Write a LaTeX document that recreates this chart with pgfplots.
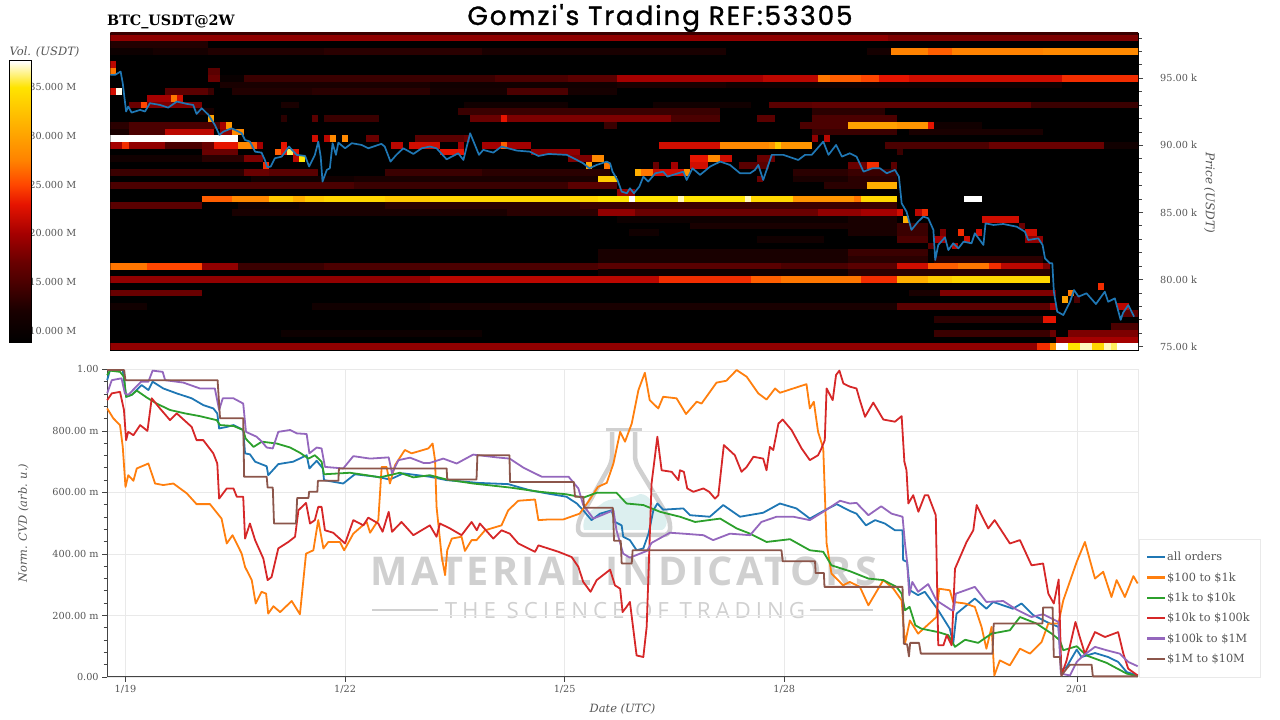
\documentclass[border=0pt]{standalone}
\usepackage{graphicx}
\usepackage{fontspec}
\setmainfont{DejaVu Serif}
\newfontfamily\titlef[LetterSpace=7,FakeBold=1.2]{Poppins}
\newfontfamily\wmf[LetterSpace=9]{Open Sans}
\newfontfamily\wmg[LetterSpace=22]{Open Sans}
\usepackage{pgfplots}
\pgfplotsset{compat=1.18}
\definecolor{txt}{HTML}{555555}
\definecolor{axl}{HTML}{444444}
\definecolor{grd}{HTML}{E9E9E9}
\definecolor{wm}{HTML}{D0D0D0}
\definecolor{liq}{HTML}{DCEFEF}
\definecolor{c1}{HTML}{1F77B4}
\definecolor{c2}{HTML}{FF7F0E}
\definecolor{c3}{HTML}{2CA02C}
\definecolor{c4}{HTML}{D62728}
\definecolor{c5}{HTML}{9467BD}
\definecolor{c6}{HTML}{8C564B}
\pgfplotsset{
  colormap={hm}{rgb255(0)=(0,0,0); rgb255(112)=(25,0,0); rgb255(215)=(75,0,0); rgb255(285)=(105,0,0); rgb255(388)=(165,0,0); rgb255(492)=(230,20,0); rgb255(561)=(255,70,0); rgb255(647)=(255,130,0); rgb255(768)=(255,175,0); rgb255(907)=(255,228,0); rgb255(1000)=(255,255,255)},
}
\newcommand\fs[1]{\fontsize{#1}{#1}\selectfont}
\newcommand\hrow[2]{\addplot[mesh,shader=flat corner,line width=6.75pt,line cap=butt,forget plot,point meta=explicit]
  table[row sep=\\,header=false,x index=0,y expr=#1,meta index=1]{#2\\};}
\begin{document}
\begin{tikzpicture}
\path[use as bounding box] (0pt,0pt) rectangle (1280pt,720pt);
% watermark
\begin{scope}
\fill[liq] (584pt,190pt) .. controls (580pt,205pt) and (595pt,212pt) .. (600pt,215pt) .. controls (610pt,225pt) and (625pt,218pt) .. (640pt,226pt) .. controls (650pt,226pt) and (652pt,215pt) .. (658pt,212pt) .. controls (670pt,206pt) and (668pt,192pt) .. (662pt,190pt) -- cycle;
\draw[wm,line width=4.5pt,rounded corners=5pt] (606pt,290pt) -- (642pt,290pt);
\draw[wm,line width=4.5pt,rounded corners=6pt] (612pt,290pt) -- (612pt,258pt) -- (578pt,198pt) -- (578pt,185pt) -- (670pt,185pt) -- (670pt,200pt) -- (635pt,258pt) -- (635pt,290pt);
\node[inner sep=0pt,text=wm] at (624pt,149pt) {\resizebox{506pt}{!}{\wmf\bfseries MATERIAL INDICATORS}};
\node[inner sep=0pt,text=wm] at (625pt,109.5pt) {\resizebox{360pt}{!}{\wmg THE SCIENCE OF TRADING}};
\draw[wm,line width=1.2pt] (372pt,110pt) -- (438pt,110pt) (810pt,110pt) -- (873pt,110pt);
\end{scope}
% titles
\node[inner sep=0pt,anchor=base] at (660pt,695pt) {\resizebox{385pt}{!}{\titlef Gomzi's Trading REF:53305}};
\node[inner sep=0pt,anchor=west] at (107pt,698pt) {\fs{14.3}\bfseries BTC\_USDT@2W};
\node[inner sep=0pt,text=txt] at (44.5pt,668pt) {\fs{11.5}\itshape Vol. (USDT)};
\node[inner sep=0pt,text=txt,rotate=-90] at (1209.5pt,527pt) {\fs{12}\itshape Price (USDT)};
% colour bar labels
\begin{axis}[at={(9.3pt,377pt)},anchor=south west,scale only axis,width=22.4pt,height=282.3pt,
  xmin=0,xmax=1,ymin=8.77,ymax=37.7,
  axis y line*=right,axis x line=none,
  ytick={10,15,20,25,30,35},yticklabels={10.000 M,15.000 M,20.000 M,25.000 M,30.000 M,35.000 M},
  major tick length=0pt,y axis line style={draw=none},
  yticklabel style={font=\fs{9.7},text=txt,anchor=west,inner sep=0pt,xshift=-2.5pt}]
\addplot[draw=none,forget plot] coordinates {(0,10)(1,35)};
\end{axis}
% colour bar
\begin{axis}[at={(9.3pt,377pt)},anchor=south west,scale only axis,width=22.4pt,height=282.3pt,
  xmin=0,xmax=1,ymin=8.77,ymax=37.7,xtick=\empty,ytick=\empty,colormap name=hm,
  point meta min=8.77,point meta max=37.7,axis line style={black,line width=1pt},axis on top]
\addplot[surf,shader=interp,point meta=y,mesh/rows=2,mesh/cols=2] coordinates {(0,8.77)(1,8.77)(0,37.7)(1,37.7)};
\end{axis}
% heat map and price
\begin{axis}[at={(110.25pt,369pt)},anchor=south west,scale only axis,width=1027.8pt,height=318pt,
  xmin=-5,xmax=332,ymin=74.68,ymax=98.37,colormap name=hm,point meta min=8.77,point meta max=37.7,
  axis background/.style={fill=black},
  axis y line*=right,axis x line=none,
  ytick={75,80,85,90,95},yticklabels={75.00 k,80.00 k,85.00 k,90.00 k,95.00 k},
  minor ytick={76,77,78,79,81,82,83,84,86,87,88,89,91,92,93,94,96,97,98},
  tick align=outside,major tick length=5pt,minor tick length=3.5pt,tick style={axl,line width=.8pt},
  yticklabel style={font=\fs{9.7},text=txt,anchor=west,inner sep=0pt,xshift=17pt}]
\hrow{98.5}{-5 14\\333 14}
\hrow{98}{-5 19\\100 19\\250 18\\333 18}
\hrow{97.5}{-5 12.5\\27 8.8\\333 8.8}
\hrow{97}{-5 10.5\\9 11.5\\27 12.5\\65 13\\117 12\\197 8.8\\243 11.5\\251 27.5\\263 26\\271 27.5\\301 28\\333 28}
\hrow{96}{-5 21\\-3 8.8\\333 8.8}
\hrow{95.5}{-5 27\\-3 8.8\\27 16\\31 8.8\\333 8.8}
\hrow{95}{-5 8.8\\27 17\\31 10\\39 14\\121 15\\145 16\\161 20\\209 21\\227 27\\231 26\\241 25\\247 23\\257 22\\307 24\\333 24}
\hrow{94.5}{31 12\\100 11\\161 12\\197 11\\307 8.8\\333 8.8}
\hrow{94}{-5 22\\-3 37.5\\-1 8.8\\13 16\\27 14\\29 8.8\\35 12.5\\61 13\\100 11.5\\125 15\\145 11.5\\161 8.8\\333 8.8}
\hrow{93.5}{7 20\\15 27\\17 22\\19 8.8\\21 8.8}
\hrow{93}{1 17\\5 25\\7 18\\25 8.8\\51 12\\57 8.8\\111 11\\145 8.8\\173 11\\205 8.8\\211 16\\225 16.5\\297 14\\333 14}
\hrow{92.5}{23 12\\29 8.8\\109 14\\195 8.8\\225 13\\249 8.8\\251 8.8}
\hrow{92}{27 30\\29 8.8\\51 13\\53 8.8\\61 16\\63 8.8\\65 14\\83 8.8\\113 17\\123 23\\125 18\\179 15\\195 8.8\\207 16\\213 8.8\\225 15\\253 8.8\\255 8.8}
\hrow{91.5}{-5 13\\1 15\\31 20\\33 29\\35 8.8\\157 14\\161 8.8\\221 15\\237 30\\253 29\\263 23\\265 11\\281 8.8\\283 8.8}
\hrow{91}{-5 12\\1 15\\13 21\\29 8.8\\31 19\\35 28\\39 8.8\\225 14\\253 8.8\\257 12\\301 8.8\\303 8.8}
\hrow{90.5}{-5 38\\37 8.8\\61 22\\63 8.8\\65 21\\67 28\\69 8.8\\71 28\\73 8.8\\79 17\\83 8.8\\95 16\\111 17\\113 8.8\\225 19\\227 8.8\\229 21\\231 8.8\\233 8.8}
\hrow{90}{-5 20\\-1 24\\1 19\\13 15\\25 17\\29 23\\37 28\\41 26\\43 20\\45 8.8\\51 23\\53 8.8\\87 21\\91 8.8\\93 22\\103 8.8\\109 20\\111 8.8\\117 20\\123 26\\125 20\\133 8.8\\175 22\\195 28\\211 29\\213 33\\215 29\\225 8.8\\249 15\\283 17\\321 11\\333 11}
\hrow{89.5}{25 17\\37 8.8\\49 26\\51 23\\53 36\\55 23\\57 8.8\\103 23\\111 8.8\\133 19\\149 8.8\\253 14\\255 8.8\\257 8.8}
\hrow{89}{-5 11\\25 13\\39 18\\45 8.8\\55 21\\57 35\\59 8.8\\145 18\\153 28\\157 8.8\\185 23\\191 28\\195 22\\199 8.8\\207 17\\213 8.8\\215 8.8}
\hrow{88.5}{45 24\\47 8.8\\151 30\\153 8.8\\157 27\\159 8.8\\173 17\\175 8.8\\179 20\\181 8.8\\185 22\\191 8.8\\201 16\\211 8.8\\237 17\\243 24\\247 8.8\\251 16\\253 8.8\\255 8.8}
\hrow{88}{-5 14\\31 13\\39 17\\47 16\\63 8.8\\85 14\\117 13\\159 8.8\\167 31\\169 27\\173 22\\183 29\\185 8.8\\219 13\\237 14\\253 8.8\\255 8.8}
\hrow{87.5}{41 11\\75 12\\155 33\\161 8.8\\207 17\\209 8.8\\219 12\\237 13\\253 8.8\\255 8.8}
\hrow{87}{-5 15\\75 14\\145 16\\161 8.8\\229 13\\243 31\\253 8.8\\255 8.8}
\hrow{86.5}{161 19\\167 8.8\\169 8.8}
\hrow{86}{25 26\\35 28\\47 33\\55 31\\59 33\\65 34\\85 33\\100 34\\155 35\\165 38\\167 35\\181 37\\183 35\\203 37\\205 34\\219 29\\239 27\\241 34\\253 8.8\\275 38\\281 8.8\\283 8.8}
\hrow{85.5}{-5 16\\25 8.8\\37 11\\57 12\\85 13\\149 14\\253 8.8\\255 8.8}
\hrow{85}{35 12\\125 13\\155 19\\167 17\\227 19\\241 20\\253 22\\255 8.8\\259 21\\261 24\\263 8.8\\265 8.8}
\hrow{84.5}{161 10.5\\237 12\\253 8.8\\255 31\\257 8.8\\281 22\\293 8.8\\295 8.8}
\hrow{84}{185 12\\253 14\\263 8.8\\293 17\\295 8.8\\297 8.8}
\hrow{83.5}{165 11\\175 8.8\\237 12\\253 14\\263 8.8\\267 18\\269 8.8\\273 24\\275 8.8\\279 22\\281 8.8\\295 22\\299 8.8\\301 8.8}
\hrow{83}{207 11\\229 8.8\\253 15\\263 8.8\\265 20\\269 8.8\\275 22\\277 8.8\\295 19\\301 8.8\\303 8.8}
\hrow{82.5}{263 16\\265 8.8\\271 21\\273 8.8\\275 8.8}
\hrow{82}{155 12\\237 14\\263 8.8\\265 8.8}
\hrow{81.5}{155 12\\237 13\\263 8.8\\265 13\\301 8.8\\303 8.8}
\hrow{81}{-5 27\\7 25\\25 19\\37 14\\65 15\\155 16\\215 15\\237 16\\253 22\\263 26\\273 27\\283 24\\287 21\\301 18\\303 8.8\\305 8.8}
\hrow{80.5}{155 11\\237 13\\303 8.8\\305 8.8}
\hrow{80}{-5 19\\100 21\\175 24\\205 26\\215 27\\241 24\\253 31\\263 33\\271 34\\303 8.8\\305 8.8}
\hrow{79.5}{319 24\\321 8.8\\323 8.8}
\hrow{79}{-5 17\\25 8.8\\257 12\\267 18\\305 8.8\\309 27\\311 8.8\\313 8.8}
\hrow{78.5}{307 30\\309 8.8\\311 15\\313 8.8\\315 8.8}
\hrow{78}{-5 11\\7 8.8\\61 11\\100 12\\253 16\\303 20\\305 8.8\\325 21\\329 8.8\\331 8.8}
\hrow{77.5}{327 16\\333 16}
\hrow{77}{265 13\\301 23\\305 8.8\\307 8.8}
\hrow{76.5}{323 15\\333 15}
\hrow{76}{51 10.5\\117 8.8\\265 14\\303 17\\305 8.8\\309 18\\333 18}
\hrow{75.5}{305 20\\333 20}
\hrow{75}{-5 19\\299 24\\303 29\\305 38\\309 35\\313 37\\317 34\\321 37\\323 36\\325 38\\333 38}
\addplot[c1,line width=1.7pt,line join=round] coordinates {(-5,95.25)(-3.4,95.25)(-1.6,95.5)(-.9,94.63)(.2,92.52)(.9,92.89)(2,92.44)(4.8,92.64)(6.4,92.52)(8,93.14)(11.3,93.01)(14,92.81)(16.8,93.26)(20.1,93.09)(22.2,93.01)(23.3,92.34)(25,92.76)(27.2,92.27)(29.3,91.52)(30.8,90.78)(32.1,91.02)(34.8,91.27)(35.9,91.15)(38.1,90.9)(39.2,90.4)(40.8,90.28)(42.5,89.53)(44.6,89.46)(45.7,88.91)(46.5,88.37)(47.6,88.42)(49,89.04)(51.2,89.16)(53.6,89.91)(56.1,89.29)(58.9,89.21)(60.2,88.42)(62.1,89.29)(63.2,90.28)(64,89.16)(64.6,87.3)(66,88.17)(67,88.29)(67.9,90.16)(69,89.29)(69.8,90.2)(72,89.78)(74.2,90.16)(77.4,90.03)(79.6,89.78)(83.9,90.11)(85,89.91)(86.9,88.79)(88.8,89.29)(91.1,89.78)(94.4,89.36)(97.1,89.78)(99.8,89.91)(102,89.78)(105.3,88.96)(109.1,89.41)(110.8,88.91)(113,90.9)(114.8,89.91)(115.9,89.29)(117.3,89.66)(120.6,89.46)(123.3,89.91)(128.3,89.61)(132.6,89.53)(135.4,89.21)(138.7,89.36)(144.7,89.29)(148,88.91)(150.1,88.66)(152.1,88.29)(154.5,88.54)(157.8,88.79)(158.9,88.66)(159.7,88.04)(161.3,87.42)(162.7,86.55)(164.4,86.43)(165.4,86.8)(166.7,86.43)(168.5,86.93)(169.8,87.67)(171.4,87.3)(173.7,87.92)(176.3,88.04)(177.7,87.67)(181.2,87.92)(182.9,88.04)(184,87.42)(185.9,88.29)(188.4,87.8)(191.7,88.42)(195,88.79)(198.2,88.54)(201.5,87.92)(204.8,87.92)(206.4,88.17)(207.5,88.54)(209.1,87.42)(211.9,89.29)(215.7,89.29)(220.6,88.91)(222.8,89.29)(225,89.29)(228.8,90.28)(230.5,89.29)(233,90.03)(234.9,89.16)(237.5,89.41)(239.7,89.16)(242,88.04)(244.9,88.29)(247.4,88.29)(249.6,87.92)(252.3,88.17)(253.6,87.67)(254.5,85.68)(256.1,85.06)(257.7,83.7)(259.9,84.32)(261.6,84.69)(263.2,84.57)(264.9,83.7)(265.5,81.46)(266.5,82.58)(268.7,83.15)(269.8,82.2)(271.4,82.7)(273.1,82.33)(274.8,82.83)(277.4,82.7)(278.5,83.45)(281.3,82.58)(282,84.19)(284.6,84.07)(287.8,84.14)(292.2,83.94)(294.9,83.57)(296,82.95)(299.3,83.07)(300.7,82.58)(301.5,81.58)(303.1,81.21)(303.9,81.21)(304.4,79.1)(305.5,77.61)(307.5,77.36)(309.7,78.35)(311,79.22)(312.5,78.73)(315.1,78.98)(318.2,78.18)(321.1,79.1)(322.2,78.35)(324.4,78.6)(326.3,77)(327.1,77.53)(328.8,78.1)(330.7,77.24)};
\end{axis}
% CVD
\begin{axis}[at={(107.2pt,43pt)},anchor=south west,scale only axis,width=1030.8pt,height=307.6pt,clip=false,
  xmin=-6,xmax=332,ymin=0,ymax=1,
  axis x line*=bottom,axis y line*=left,axis line style={axl,line width=1pt,-},
  xtick={0,72,144,216,312},xticklabels={1/19,1/22,1/25,1/28,2/01},
  ytick={0,.2,.4,.6,.8,1},yticklabels={0.00,200.00 m,400.00 m,600.00 m,800.00 m,1.00},
  minor y tick num=4,tick align=outside,major tick length=5pt,minor tick length=3.5pt,tick style={axl,line width=.8pt},
  xmajorgrids,ymajorgrids,grid style={grd,line width=.8pt},
  ticklabel style={font=\fs{9.7},text=txt},
  xlabel={Date (UTC)},ylabel={Norm. CVD (arb. u.)},label style={font=\fs{11.4}\itshape,text=txt},
  ylabel shift=17pt,xlabel shift=3pt,
  legend style={at={(axis description cs:1.001,0)},anchor=south west,draw=grd,fill=white,font=\fs{11.3},text=txt,row sep=6.2pt,inner xsep=8pt,inner ysep=11pt},
  legend cell align=left,
  legend image code/.code={\fill[#1,draw=none] (0pt,-1.15pt) rectangle (18pt,1.15pt);},
  every axis plot/.append style={line width=1.8pt,line join=round}]
\draw[grd,line width=.8pt] (axis cs:-6,1) -- (axis cs:332,1) -- (axis cs:332,0);
\addplot[c1] coordinates {(-6,.965)(-5.1,.998)(-.9,.998)(.2,.911)(2,.917)(5.3,.949)(7.5,.933)(8.9,.960)(12.4,.938)(16.8,.922)(21.7,.906)(25.5,.884)(28.8,.873)(30.1,.857)(30.7,.808)(33.2,.813)(35.4,.819)(38.6,.803)(39.2,.727)(40.8,.724)(42.5,.700)(46.3,.685)(46.8,.656)(50.1,.692)(55,.700)(59.4,.721)(60.3,.678)(62.7,.703)(64.7,.678)(65.1,.640)(71.4,.629)(75.2,.659)(82.4,.651)(86.7,.642)(91.1,.662)(99.8,.651)(105.3,.640)(115.7,.631)(125.5,.627)(132.6,.607)(138.1,.597)(144.6,.586)(148,.564)(150.1,.542)(152.8,.510)(155.6,.531)(159.4,.542)(160.5,.504)(162.7,.493)(163.2,.456)(165.4,.445)(167.6,.412)(169.8,.418)(171.5,.466)(173.1,.542)(174.4,.564)(176.3,.544)(182.9,.548)(185.1,.526)(191.6,.521)(196,.559)(201.5,.521)(209.1,.534)(214.6,.564)(220,.548)(224.4,.515)(229.3,.542)(233.2,.562)(237.5,.540)(239.7,.531)(242.8,.493)(245.8,.510)(249,.499)(252.3,.477)(254.8,.477)(255,.380)(256.3,.374)(257.2,.282)(259.9,.266)(262.1,.277)(266.5,.217)(270.3,.157)(271.4,.108)(272.5,.206)(278.5,.255)(282.3,.222)(284.5,.244)(291,.222)(293.8,.239)(297.7,.201)(303.1,.174)(305.9,.163)(306.9,.022)(308.6,.033)(311.9,.089)(313.5,.065)(317.9,.078)(322.2,.065)(325.5,.049)(328.3,.016)(331.9,.005)};
\addlegendentry{all orders}
\addplot[c2] coordinates {(-6,.873)(-4,.841)(-1.8,.819)(-.9,.748)(0,.618)(.9,.656)(2.6,.638)(3.7,.678)(7.5,.694)(9.7,.629)(12.4,.624)(15.7,.629)(20.1,.597)(23.3,.562)(27.7,.562)(31.5,.515)(33.2,.434)(35.1,.461)(38.1,.401)(39.2,.358)(41.4,.315)(42.7,.239)(44.6,.277)(46.1,.271)(46.8,.206)(48.5,.230)(50.7,.211)(54.5,.247)(57.2,.204)(59.2,.401)(61.6,.412)(63.2,.510)(64.9,.418)(66.5,.439)(70.3,.439)(71.7,.412)(74.7,.466)(79.1,.504)(80.2,.469)(82.9,.510)(84,.683)(85.6,.683)(86.7,.629)(88.4,.689)(91.6,.738)(93.8,.727)(99.3,.743)(100.7,.759)(101.5,.705)(102,.553)(103.7,.390)(104.8,.331)(105.5,.412)(107,.450)(110.2,.456)(111.3,.410)(113.5,.445)(115.1,.445)(117.9,.477)(123.3,.493)(125.5,.542)(128.8,.573)(134.3,.577)(135.4,.510)(138.6,.512)(143.5,.512)(148.9,.531)(151.7,.569)(154.9,.618)(157.8,.631)(160,.694)(162.2,.797)(163.8,.765)(166,.824)(168.2,.933)(170.3,.989)(171.9,.900)(174.7,.873)(176.3,.911)(180.7,.906)(183.8,.855)(187.3,.895)(188.9,.889)(193.8,.957)(197,.963)(200.4,.998)(203.7,.976)(207.5,.922)(210.2,.902)(213,.938)(214.6,.924)(223.3,.952)(224.4,.873)(225.7,.895)(227.1,.797)(228.8,.743)(229.9,.434)(231.5,.336)(235.3,.298)(237.5,.309)(240.8,.293)(243.6,.233)(248.5,.315)(251.8,.287)(254.5,.249)(255.6,.108)(257.2,.184)(259.9,.141)(265.9,.195)(266.8,.287)(270.3,.282)(271.4,.244)(275.3,.239)(278.5,.228)(280.7,.163)(282.3,.092)(284,.163)(284.9,.005)(286.7,.054)(290,.038)(293.3,.092)(296.6,.076)(300.4,.114)(302.6,.174)(305.9,.174)(307.5,.249)(311.9,.374)(314.6,.439)(317.9,.320)(320.6,.342)(323.3,.260)(325,.315)(327.7,.260)(330.5,.328)(331.9,.304)};
\addlegendentry{\$100 to \$1k}
\addplot[c3] coordinates {(-6,.981)(-5.1,.996)(-1.8,.992)(-.5,.976)(.2,.911)(2,.917)(3.7,.931)(6.9,.909)(10.2,.889)(14.6,.868)(19.5,.857)(24.4,.848)(29.9,.835)(31,.819)(35.4,.816)(38.6,.803)(39.4,.775)(42,.748)(44.7,.765)(49.6,.759)(54,.746)(57.2,.729)(60,.710)(62.1,.721)(64.3,.700)(65.1,.659)(73.6,.664)(79.1,.656)(83.4,.649)(90,.664)(94.4,.649)(99.8,.656)(105.3,.642)(114,.629)(126,.616)(135.9,.602)(144.6,.594)(150.1,.583)(154.5,.599)(161,.599)(164.3,.564)(169.8,.559)(175.3,.537)(181.8,.521)(186.8,.504)(195,.515)(200.4,.483)(204.8,.466)(210.2,.439)(217.9,.448)(224.4,.412)(228.8,.407)(231.5,.363)(237.5,.344)(243.6,.320)(248.5,.315)(252.8,.293)(254.5,.271)(255.6,.217)(257.1,.228)(259,.168)(261,.157)(266.5,.146)(269.8,.136)(272,.098)(275.3,.121)(279.6,.111)(284,.141)(290,.152)(293.3,.195)(298.7,.174)(303.7,.141)(306.4,.119)(307.5,.087)(311.9,.100)(315.1,.070)(321.7,.046)(328.3,.011)(331.9,.002)};
\addlegendentry{\$1k to \$10k}
\addplot[c4] coordinates {(-6,.900)(-4.5,.922)(-1.8,.927)(-.5,.868)(.2,.770)(.9,.797)(2.6,.786)(4.8,.819)(7.2,.800)(8.6,.906)(11.3,.873)(14.6,.835)(16.8,.857)(21.7,.813)(23.3,.770)(25.5,.770)(28.8,.727)(30.1,.694)(30.7,.580)(33.2,.613)(35.4,.613)(36.5,.586)(38.6,.586)(39.2,.450)(40.8,.499)(42.5,.445)(45.2,.385)(46.6,.315)(47.9,.325)(50.1,.418)(53.4,.439)(55.6,.456)(56.7,.542)(59.2,.566)(60.5,.499)(62.1,.510)(63.2,.553)(64.3,.553)(65.4,.477)(68.1,.469)(72,.434)(74.7,.510)(78,.493)(79.6,.518)(82.9,.499)(84.3,.472)(86.3,.537)(87.4,.472)(90.5,.504)(94.4,.461)(99.8,.493)(102,.456)(103.1,.499)(106.4,.483)(110.2,.461)(113.5,.504)(115.2,.477)(116.2,.499)(120.6,.450)(123.3,.477)(126,.466)(128.8,.434)(134.3,.407)(135.4,.428)(142,.407)(146.3,.390)(148.5,.358)(150.1,.309)(152.5,.277)(154.5,.315)(158.9,.349)(160.5,.298)(162.2,.287)(163,.211)(164.3,.228)(165.4,.244)(167.6,.070)(169.8,.065)(170.9,.163)(172.5,.629)(174.4,.781)(175.8,.672)(179.1,.667)(181.3,.640)(181.8,.672)(183.1,.667)(184.2,.613)(186.2,.602)(189.5,.613)(191.4,.602)(193.3,.580)(194.4,.591)(196.2,.754)(199.8,.721)(202,.667)(203.7,.683)(205.9,.716)(209.1,.710)(210.2,.672)(211.3,.748)(212.4,.738)(214.1,.824)(215.5,.837)(218.4,.803)(221.7,.743)(224.4,.705)(227.1,.721)(228.2,.743)(229.3,.770)(229.9,.938)(231.9,.900)(233,.982)(234.1,.996)(235.4,.954)(237.5,.944)(239.7,.938)(240.8,.900)(242.5,.846)(245.2,.892)(248.5,.837)(252.3,.830)(254.5,.848)(255.4,.700)(256.1,.672)(256.7,.564)(258.3,.591)(260,.537)(262.1,.591)(263.2,.591)(265.7,.526)(266.5,.103)(268.2,.103)(269.3,.136)(270.9,.103)(272,.352)(275.8,.439)(278,.477)(279.1,.559)(280.7,.526)(282.9,.483)(285,.510)(290,.434)(293.3,.445)(297.1,.363)(300.9,.369)(302.6,.271)(304.4,.239)(306,.317)(306.9,.005)(308.6,.054)(311.5,.179)(312.9,.130)(314.6,.076)(317.9,.146)(321.2,.130)(325.5,.146)(327.2,.076)(328.8,.027)(331.9,.005)};
\addlegendentry{\$10k to \$100k}
\addplot[c5] coordinates {(-6,.922)(-4.5,.965)(-1.3,.971)(-.2,.922)(.9,.917)(5.1,.960)(7.5,.960)(8.9,.996)(12.2,.992)(13,.965)(19,.957)(24.4,.938)(29.3,.938)(30.7,.868)(31.9,.906)(35.4,.906)(38.6,.889)(39.5,.797)(43,.781)(44.7,.765)(46.3,.746)(48.3,.743)(50.1,.797)(54,.803)(56.2,.792)(59.4,.790)(60.3,.727)(62.7,.746)(64.3,.743)(65.4,.683)(71.4,.678)(74.7,.718)(80.2,.710)(86.3,.714)(87.4,.662)(89.5,.705)(93.3,.713)(97.7,.696)(99.8,.696)(104.2,.710)(108.6,.694)(114,.723)(121.7,.714)(126,.710)(130.4,.681)(136.5,.651)(145.3,.651)(148.5,.613)(150.1,.559)(153.4,.515)(160,.542)(161,.477)(163.2,.401)(165.4,.388)(171,.410)(172.5,.436)(178.5,.469)(182.9,.466)(189.5,.461)(192.7,.445)(198.2,.466)(204.8,.461)(208.5,.504)(213.5,.521)(219,.521)(224.4,.510)(228.8,.537)(234.3,.573)(237.5,.564)(239.7,.566)(243.6,.526)(247.8,.555)(251.2,.531)(254.8,.521)(255.6,.434)(256.3,.374)(257,.266)(258,.309)(259.9,.277)(263.2,.302)(265.9,.249)(270.9,.217)(271.6,.217)(272.3,.271)(278.5,.293)(282.3,.244)(287.8,.247)(292.2,.219)(297.1,.195)(300.9,.204)(305.9,.179)(306.7,.011)(309.7,.005)(311.9,.049)(314.1,.070)(317.9,.098)(321.7,.087)(326,.076)(328.8,.049)(331.9,.035)};
\addlegendentry{\$100k to \$1M}
\addplot[c6] coordinates {(-6,.998)(-.5,.998)(0,.965)(30.2,.965)(31,.841)(38.6,.841)(38.9,.651)(46.3,.651)(46.6,.616)(48.3,.616)(48.7,.499)(55.9,.499)(56.3,.582)(60,.582)(60.2,.602)(62.9,.602)(63.1,.638)(69.8,.638)(70,.678)(105.3,.678)(105.5,.642)(115.1,.642)(115.4,.721)(125.9,.721)(126.1,.634)(147,.634)(147.4,.586)(150.1,.586)(150.4,.550)(159.8,.550)(160.2,.443)(162.4,.443)(162.7,.369)(166,.369)(166.3,.412)(215.1,.412)(215.5,.376)(226.1,.376)(226.3,.338)(229,.338)(229.2,.293)(254.8,.293)(255.2,.108)(256.3,.106)(256.9,.067)(257.3,.111)(260.2,.111)(260.8,.076)(284.3,.076)(284.7,.174)(300.7,.174)(300.9,.226)(304,.226)(304.4,.065)(306.4,.065)(306.9,.005)(308.6,.027)(309.7,.040)(316.8,.040)(317.2,.002)(331.9,.002)};
\addlegendentry{\$1M to \$10M}
\end{axis}
\end{tikzpicture}
\end{document}
